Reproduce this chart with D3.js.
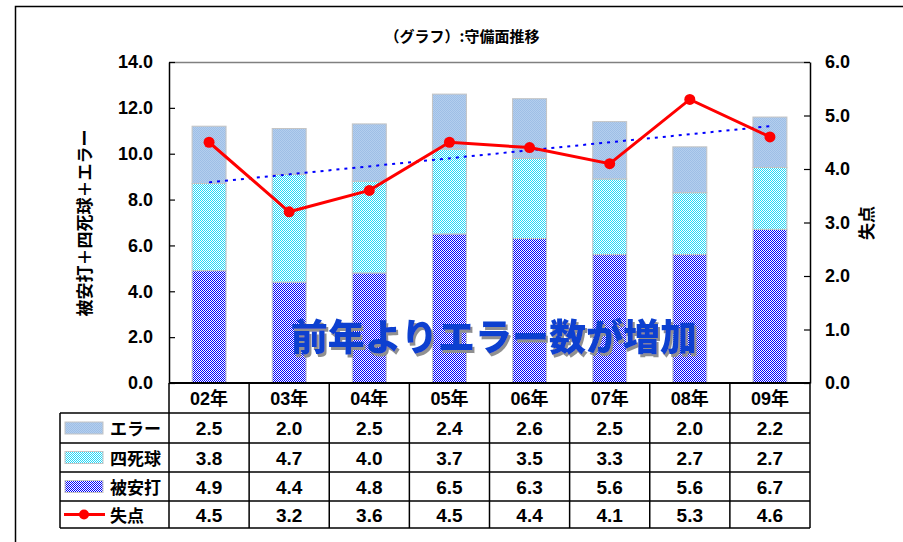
<!DOCTYPE html>
<html>
<head>
<meta charset="utf-8">
<script src="https://cdn.jsdelivr.net/npm/d3@7"></script>
<style>
  body { margin: 0; background: #fff; }
  text { font-family: "Liberation Sans", "Noto Sans CJK JP", sans-serif; font-weight: bold; }
</style>
</head>
<body>
<script>

//Chart data

const years = ["02年", "03年", "04年", "05年", "06年", "07年", "08年", "09年"];
const errors = [2.5, 2.0, 2.5, 2.4, 2.6, 2.5, 2.0, 2.2];
const walks = [3.8, 4.7, 4.0, 3.7, 3.5, 3.3, 2.7, 2.7];
const hits = [4.9, 4.4, 4.8, 6.5, 6.3, 5.6, 5.6, 6.7];
const runs = [4.5, 3.2, 3.6, 4.5, 4.4, 4.1, 5.3, 4.6];
const leftTicks = [0, 2, 4, 6, 8, 10, 12, 14];
const rightTicks = [0, 1, 2, 3, 4, 5, 6];

const width = 903;
const height = 542;
const plotLeft = 169, plotRight = 810, plotTop = 62, plotBottom = 383;
const rowY = [383, 413, 443, 472, 501, 528];

var svg = d3.select("body")
  .append("svg")
  .attr("width", width)
  .attr("height", height);

//Patterns for the stacked bars

var defs = svg.append("defs");

function checker(id, color, bg) {
  var p = defs.append("pattern")
    .attr("id", id)
    .attr("patternUnits", "userSpaceOnUse")
    .attr("width", 2)
    .attr("height", 2);
  p.append("rect").attr("width", 2).attr("height", 2).attr("fill", bg);
  p.append("rect").attr("width", 1).attr("height", 1).attr("fill", color);
  p.append("rect").attr("x", 1).attr("y", 1).attr("width", 1).attr("height", 1).attr("fill", color);
}
checker("pHits", "#0000ff", "#ffffff");
checker("pWalks", "#22d8f8", "#ffffff");
checker("pErr", "#9ebee6", "#b4cfee");

// shadow for the comment text
defs.append("filter")
  .attr("id", "shadow")
  .append("feDropShadow")
  .attr("dx", 2).attr("dy", 3)
  .attr("stdDeviation", 0.6)
  .attr("flood-color", "#909090")
  .attr("flood-opacity", 1);

//Outer frame

svg.append("rect")
  .attr("x", 15.5).attr("y", 6.5)
  .attr("width", 1000).attr("height", 600)
  .attr("fill", "none")
  .attr("stroke", "#000")
  .attr("stroke-width", 1.5);

//Scales

var x = d3.scaleBand()
  .domain(years)
  .range([plotLeft, plotRight])
  .paddingInner(0.576)
  .paddingOuter(0.288);

var yL = d3.scaleLinear().domain([0, 14]).range([plotBottom, plotTop]);
var yR = d3.scaleLinear().domain([0, 6]).range([plotBottom, plotTop]);

//Stacked bars, bottom to top: hits, walks, errors

var table = years.map(function (d, i) {
  return { year: d, hits: hits[i], walks: walks[i], errors: errors[i] };
});
var stack = d3.stack().keys(["hits", "walks", "errors"]);
var fills = { hits: "url(#pHits)", walks: "url(#pWalks)", errors: "url(#pErr)" };

svg.append("g")
  .selectAll("g")
  .data(stack(table))
  .enter()
  .append("g")
  .attr("fill", function (d) { return fills[d.key]; })
  .selectAll("rect")
  .data(function (d) { return d; })
  .enter()
  .append("rect")
  .attr("x", function (d) { return x(d.data.year); })
  .attr("y", function (d) { return yL(d[1]); })
  .attr("width", x.bandwidth())
  .attr("height", function (d) { return yL(d[0]) - yL(d[1]); })
  .attr("stroke", "#c4c4c4")
  .attr("stroke-width", 1);

//Plot area top border

svg.append("line")
  .attr("x1", plotLeft).attr("x2", plotRight)
  .attr("y1", plotTop + 0.5).attr("y2", plotTop + 0.5)
  .attr("stroke", "#808080")
  .attr("stroke-width", 1.5);

//Axes

var yAxisL = d3.axisLeft(yL)
  .tickValues(leftTicks)
  .tickFormat(d3.format(".1f"))
  .tickSizeInner(-6)
  .tickSizeOuter(0)
  .tickPadding(16);

var yAxisR = d3.axisRight(yR)
  .tickValues(rightTicks)
  .tickFormat(d3.format(".1f"))
  .tickSizeInner(-6)
  .tickSizeOuter(0)
  .tickPadding(15);

var gl = svg.append("g").attr("transform", "translate(" + plotLeft + ",0)").call(yAxisL);
var gr = svg.append("g").attr("transform", "translate(" + plotRight + ",0)").call(yAxisR);

[gl, gr].forEach(function (g) {
  g.selectAll("path").attr("stroke", "#000").attr("stroke-width", 1.5);
  g.selectAll("line").attr("stroke", "#000").attr("stroke-width", 1.2);
  g.selectAll("text")
    .attr("fill", "#000")
    .style("font-size", "18px")
    .style("font-family", "'Liberation Sans', sans-serif")
    .style("font-weight", "bold");
});

//Linear trend of runs allowed (dotted blue)

var n = runs.length;
var mx = d3.mean(runs, function (d, i) { return i; });
var my = d3.mean(runs);
var sxy = d3.sum(runs, function (d, i) { return (i - mx) * (d - my); });
var sxx = d3.sum(runs, function (d, i) { return (i - mx) * (i - mx); });
var slope = sxy / sxx;
var icpt = my - slope * mx;

svg.append("line")
  .attr("x1", x(years[0]) + x.bandwidth() / 2)
  .attr("x2", x(years[n - 1]) + x.bandwidth() / 2)
  .attr("y1", yR(icpt))
  .attr("y2", yR(icpt + slope * (n - 1)))
  .attr("stroke", "#0000ff")
  .attr("stroke-width", 2)
  .attr("stroke-dasharray", "3,5");

//Runs line with markers

var line = d3.line()
  .x(function (d, i) { return x(years[i]) + x.bandwidth() / 2; })
  .y(function (d) { return yR(d); });

svg.append("path")
  .datum(runs)
  .attr("d", line)
  .attr("fill", "none")
  .attr("stroke", "#ff0000")
  .attr("stroke-width", 3);

svg.append("g")
  .selectAll("circle")
  .data(runs)
  .enter()
  .append("circle")
  .attr("cx", function (d, i) { return x(years[i]) + x.bandwidth() / 2; })
  .attr("cy", function (d) { return yR(d); })
  .attr("r", 5.5)
  .attr("fill", "#ff0000");

//Overlay comment text with shadow

svg.append("text")
  .attr("x", 494).attr("y", 351)
  .attr("text-anchor", "middle")
  .attr("filter", "url(#shadow)")
  .style("font-family", "'Noto Sans CJK JP'")
  .style("font-weight", "900")
  .style("font-size", "37px")
  .attr("fill", "#0b3fd0")
  .text("前年よりエラー数が増加");

//Titles

svg.append("text")
  .attr("x", 462).attr("y", 42)
  .attr("text-anchor", "middle")
  .style("font-family", "'Noto Sans CJK JP'")
  .style("font-size", "15px")
  .text("（グラフ）:守備面推移");

svg.append("text")
  .attr("transform", "translate(91,223) rotate(-90)")
  .attr("text-anchor", "middle")
  .style("font-family", "'Noto Sans CJK JP'")
  .style("font-size", "17px")
  .text("被安打＋四死球＋エラー");

svg.append("text")
  .attr("transform", "translate(873,223) rotate(-90)")
  .attr("text-anchor", "middle")
  .style("font-family", "'Noto Sans CJK JP'")
  .style("font-size", "17px")
  .text("失点");

//Data table under the chart

var tbl = svg.append("g");
var lineStyle = function (sel) { sel.attr("stroke", "#000").attr("stroke-width", 1.5); };

// horizontal lines
tbl.selectAll("line.h")
  .data(rowY)
  .enter()
  .append("line")
  .attr("x1", function (d, i) { return i < 1 ? plotLeft : 60; })
  .attr("x2", plotRight)
  .attr("y1", function (d) { return d; })
  .attr("y2", function (d) { return d; })
  .call(lineStyle)
  .attr("stroke-width", function (d, i) { return i === 0 ? 2 : 1.5; });

// vertical lines
var colX = years.map(function (d) { return x(d) - x.step() * x.paddingInner() / 2; });
colX.push(plotRight);
tbl.selectAll("line.v")
  .data(colX)
  .enter()
  .append("line")
  .attr("x1", function (d) { return d; })
  .attr("x2", function (d) { return d; })
  .attr("y1", plotBottom)
  .attr("y2", rowY[5])
  .call(lineStyle);
tbl.append("line")
  .attr("x1", 60).attr("x2", 60)
  .attr("y1", rowY[1]).attr("y2", rowY[5])
  .call(lineStyle);

// header
tbl.selectAll("text.year")
  .data(years)
  .enter()
  .append("text")
  .attr("x", function (d) { return x(d) + x.bandwidth() / 2; })
  .attr("y", 405)
  .attr("text-anchor", "middle")
  .style("font-size", "18px")
  .text(function (d) { return d; });

// rows
var rows = [
  { name: "エラー", values: errors, swatch: "url(#pErr)" },
  { name: "四死球", values: walks, swatch: "url(#pWalks)" },
  { name: "被安打", values: hits, swatch: "url(#pHits)" },
  { name: "失点", values: runs, swatch: null }
];

rows.forEach(function (r, ri) {
  var yMid = (rowY[ri + 1] + rowY[ri + 2]) / 2;

  tbl.selectAll("text.v" + ri)
    .data(r.values)
    .enter()
    .append("text")
    .attr("x", function (d, i) { return x(years[i]) + x.bandwidth() / 2; })
    .attr("y", yMid + 7)
    .attr("text-anchor", "middle")
    .style("font-size", "19px")
    .style("font-family", "'Liberation Sans', sans-serif")
    .text(function (d) { return d3.format(".1f")(d); });

  if (r.swatch) {
    tbl.append("rect")
      .attr("x", 65).attr("y", yMid - 6)
      .attr("width", 38).attr("height", 12)
      .attr("fill", r.swatch)
      .attr("stroke", "#c4c4c4")
      .attr("stroke-width", 1);
  } else {
    tbl.append("line")
      .attr("x1", 64).attr("x2", 105)
      .attr("y1", yMid).attr("y2", yMid)
      .attr("stroke", "#ff0000")
      .attr("stroke-width", 3);
    tbl.append("circle")
      .attr("cx", 84).attr("cy", yMid)
      .attr("r", 5)
      .attr("fill", "#ff0000");
  }

  tbl.append("text")
    .attr("x", 110)
    .attr("y", yMid + 7)
    .style("font-family", "'Noto Sans CJK JP'")
    .style("font-size", "17px")
    .text(r.name);
});

</script>
</body>
</html>
